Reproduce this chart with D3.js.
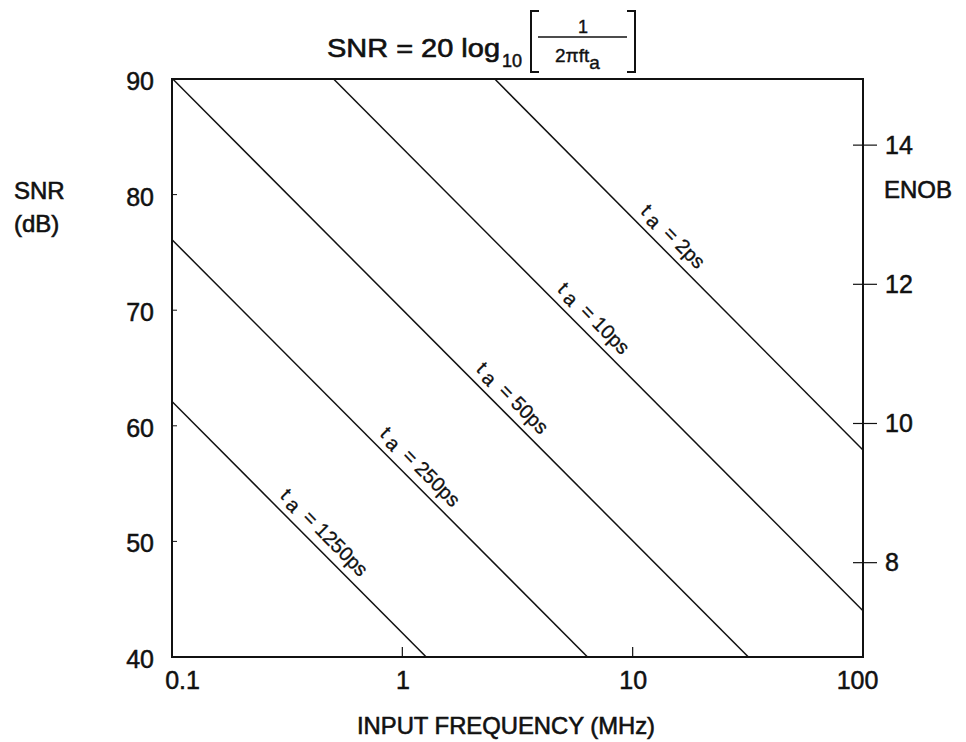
<!DOCTYPE html>
<html>
<head>
<meta charset="utf-8">
<script src="https://cdn.jsdelivr.net/npm/d3@7/dist/d3.min.js"></script>
<style>
  html, body { margin: 0; padding: 0; background: #fff; }
  svg text { font-family: "Liberation Sans", Arial, Helvetica, sans-serif; fill: #111; }
</style>
</head>
<body>
<svg id="chart" width="966" height="742"></svg>
<script>
// ---- data ----
const freqTicks = [0.1, 1, 10, 100];
const freqTickLabels = ["0.1", "1", "10", "100"];
const snrTicks = [40, 50, 60, 70, 80, 90];
const snrMinorTicks = [50, 60, 70, 80];
const enobTicks = [8, 10, 12, 14];
const apertureLabels = ["2ps", "10ps", "50ps", "250ps", "1250ps"];
// line end points (freq MHz, SNR dB)
const lineStartF   = [2.52, 0.503, 0.1, 0.1, 0.1];
const lineStartSNR = [90, 90, 90.06, 76.1, 62.1];
const lineEndF     = [100, 100, 31.8, 6.37, 1.27];
const lineEndSNR   = [57.9, 44.0, 40, 40, 40];
// where each line's label sits (freq MHz)
const labelF = [13.4, 6.07, 2.69, 1.07, 0.41];

// ---- layout ----
const L = 172, R = 863, T = 79, B = 657;
const svg = d3.select("#chart");
const x = d3.scaleLog().domain([0.1, 100]).range([L, R]);
const y = d3.scaleLinear().domain([40, 90]).range([B, T]);
const yE = d3.scaleLinear().domain([40 / 6.02, 90 / 6.02]).range([B, T]);

svg.append("defs").append("clipPath").attr("id", "plotclip")
  .append("rect").attr("x", L).attr("y", T).attr("width", R - L).attr("height", B - T);

// series lines
const g = svg.append("g").attr("clip-path", "url(#plotclip)");
apertureLabels.forEach((lab, i) => {
  g.append("line")
    .attr("x1", x(lineStartF[i])).attr("y1", y(lineStartSNR[i]))
    .attr("x2", x(lineEndF[i])).attr("y2", y(lineEndSNR[i]))
    .attr("stroke", "#111").attr("stroke-width", 1.5);
});

// frame
svg.append("rect").attr("x", L).attr("y", T).attr("width", R - L).attr("height", B - T)
  .attr("fill", "none").attr("stroke", "#111").attr("stroke-width", 2);

// left axis labels & minor inward ticks
const yAxis = d3.axisLeft(y).tickValues(snrTicks).tickSize(0).tickPadding(18);
const ya = svg.append("g").attr("transform", `translate(${L},0)`).call(yAxis);
ya.select(".domain").remove();
ya.selectAll("text").style("font-size", "25px").attr("dy", "0.42em")
  .attr("stroke", "#111").attr("stroke-width", 0.5);
svg.selectAll(".ltick").data(snrMinorTicks).enter().append("line")
  .attr("x1", L).attr("x2", L + 5).attr("y1", d => y(d)).attr("y2", d => y(d))
  .attr("stroke", "#111").attr("stroke-width", 1);

// bottom axis
const xAxis = d3.axisBottom(x).tickValues(freqTicks).tickFormat((d, i) => freqTickLabels[i])
  .tickSize(0).tickPadding(18);
const xa = svg.append("g").attr("transform", `translate(0,${B})`).call(xAxis);
xa.select(".domain").remove();
xa.selectAll("text").style("font-size", "25px").attr("dy", "0.55em")
  .attr("stroke", "#111").attr("stroke-width", 0.5)
  .attr("dx", (d, i) => i === 0 ? 10 : (i === 3 ? -6 : 0));
svg.selectAll(".btick").data([1, 10]).enter().append("line")
  .attr("x1", d => x(d)).attr("x2", d => x(d)).attr("y1", B).attr("y2", B - 10)
  .attr("stroke", "#111").attr("stroke-width", 1.2);

// right ENOB axis
const ea = svg.append("g");
enobTicks.forEach(v => {
  ea.append("line").attr("x1", R - 10).attr("x2", R + 14)
    .attr("y1", yE(v)).attr("y2", yE(v)).attr("stroke", "#111").attr("stroke-width", 1.2);
  ea.append("text").attr("x", R + 22).attr("y", yE(v)).attr("dy", "0.35em")
    .style("font-size", "25px").attr("stroke", "#111").attr("stroke-width", 0.5).text(v);
});

// axis titles
svg.append("text").attr("x", 14).attr("y", 199).style("font-size", "24px")
  .attr("stroke", "#111").attr("stroke-width", 0.6).text("SNR");
svg.append("text").attr("x", 14).attr("y", 232).style("font-size", "24px")
  .attr("stroke", "#111").attr("stroke-width", 0.6).text("(dB)");
svg.append("text").attr("x", 884).attr("y", 198).style("font-size", "24px")
  .attr("stroke", "#111").attr("stroke-width", 0.6).text("ENOB");
svg.append("text").attr("x", 506).attr("y", 734).attr("text-anchor", "middle")
  .style("font-size", "24px").attr("stroke", "#111").attr("stroke-width", 0.6)
  .attr("textLength", 298).attr("lengthAdjust", "spacingAndGlyphs")
  .text("INPUT FREQUENCY (MHz)");

// line labels
apertureLabels.forEach((lab, i) => {
  const f0 = Math.log10(lineStartF[i]), f1 = Math.log10(lineEndF[i]);
  const t = (Math.log10(labelF[i]) - f0) / (f1 - f0);
  const snr = lineStartSNR[i] + t * (lineEndSNR[i] - lineStartSNR[i]);
  const px = x(labelF[i]), py = y(snr);
  const ang = Math.atan2(y(lineEndSNR[i]) - y(lineStartSNR[i]), x(lineEndF[i]) - x(lineStartF[i])) * 180 / Math.PI;
  const txt = svg.append("text")
    .attr("transform", `translate(${px},${py}) rotate(${ang})`)
    .attr("text-anchor", "middle").attr("dy", -9)
    .style("font-size", "20px").attr("stroke", "#111").attr("stroke-width", 0.3);
  txt.append("tspan").text("t");
  txt.append("tspan").attr("dx", 5).attr("dy", 3).text("a");
  txt.append("tspan").attr("dx", 10).attr("dy", -3).text("= " + lab);
});

// title formula
const title = svg.append("g");
title.append("text").attr("x", 327).attr("y", 57).style("font-size", "25px")
  .attr("stroke", "#111").attr("stroke-width", 0.6)
  .attr("textLength", 173).attr("lengthAdjust", "spacingAndGlyphs")
  .text("SNR = 20 log");
title.append("text").attr("x", 502).attr("y", 67).style("font-size", "18px")
  .attr("stroke", "#111").attr("stroke-width", 0.5).text("10");
title.append("path").attr("d", "M539,11 H531 V72 H539").attr("fill", "none")
  .attr("stroke", "#111").attr("stroke-width", 2);
title.append("path").attr("d", "M627,11 H635 V72 H627").attr("fill", "none")
  .attr("stroke", "#111").attr("stroke-width", 2);
title.append("line").attr("x1", 538).attr("x2", 627).attr("y1", 37).attr("y2", 37)
  .attr("stroke", "#111").attr("stroke-width", 1.5);
title.append("text").attr("x", 583).attr("y", 33).attr("text-anchor", "middle")
  .style("font-size", "18px").attr("stroke", "#111").attr("stroke-width", 0.4).text("1");
const den = title.append("text").attr("x", 555).attr("y", 62).style("font-size", "19px")
  .attr("stroke", "#111").attr("stroke-width", 0.4);
den.append("tspan").text("2πft");
den.append("tspan").attr("dy", 7).text("a");
</script>
</body>
</html>
